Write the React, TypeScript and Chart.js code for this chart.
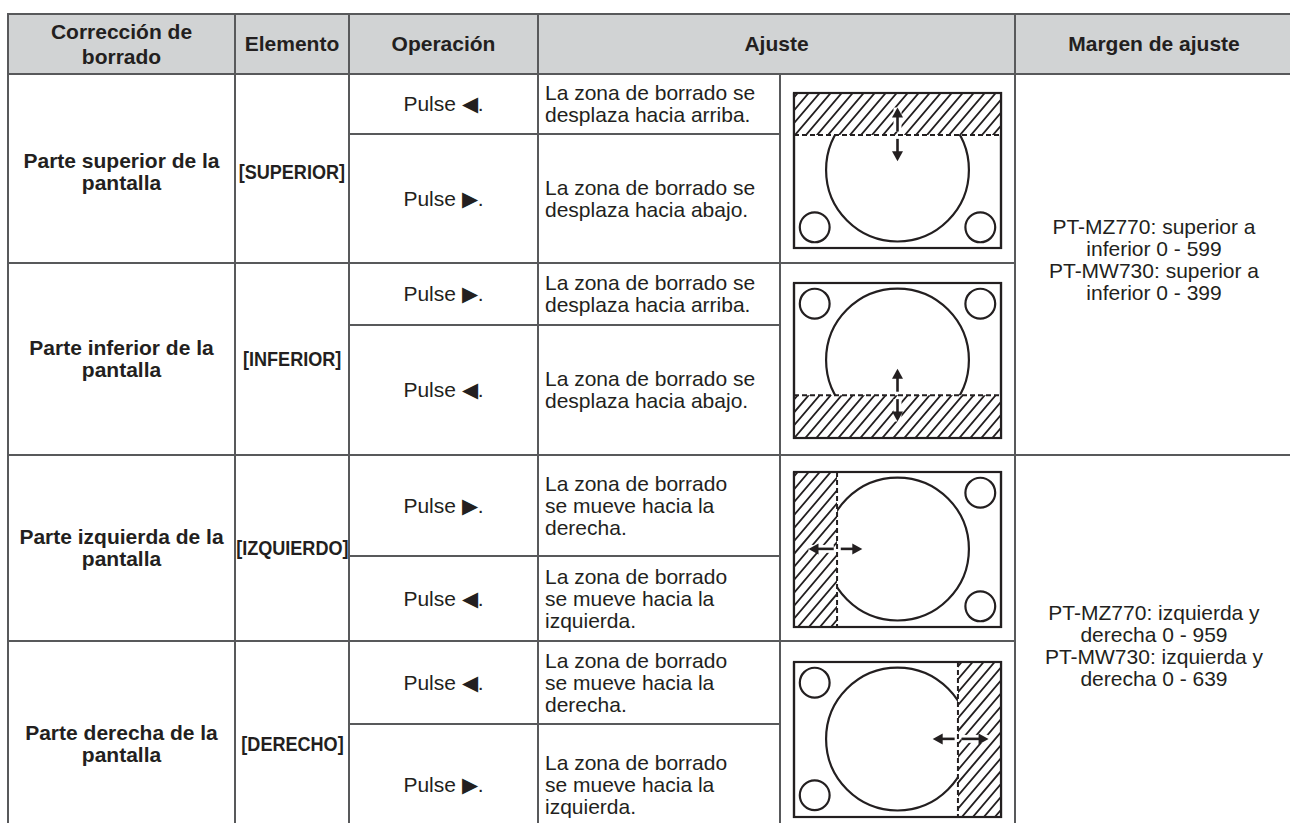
import React, { useEffect, useRef } from "react";
import { Chart, registerables } from "chart.js";

Chart.register(...registerables);

// ---------- table text data ----------
const headers = ["Corrección de\nborrado", "Elemento", "Operación", "Ajuste", "Margen de ajuste"];
const sides = [
  "Parte superior de la\npantalla",
  "Parte inferior de la\npantalla",
  "Parte izquierda de la\npantalla",
  "Parte derecha de la\npantalla",
];
const items = ["[SUPERIOR]", "[INFERIOR]", "[IZQUIERDO]", "[DERECHO]"];
const operations = ["Pulse ◀.", "Pulse ▶.", "Pulse ▶.", "Pulse ◀.", "Pulse ▶.", "Pulse ◀.", "Pulse ◀.", "Pulse ▶."];
const results = [
  "La zona de borrado se\ndesplaza hacia arriba.",
  "La zona de borrado se\ndesplaza hacia abajo.",
  "La zona de borrado se\ndesplaza hacia arriba.",
  "La zona de borrado se\ndesplaza hacia abajo.",
  "La zona de borrado\nse mueve hacia la\nderecha.",
  "La zona de borrado\nse mueve hacia la\nizquierda.",
  "La zona de borrado\nse mueve hacia la\nderecha.",
  "La zona de borrado\nse mueve hacia la\nizquierda.",
];
const ranges = [
  "PT-MZ770: superior a\ninferior 0 - 599\nPT-MW730: superior a\ninferior 0 - 399",
  "PT-MZ770: izquierda y\nderecha 0 - 959\nPT-MW730: izquierda y\nderecha 0 - 639",
];

// ---------- diagram data (screen units: width 100, height 75) ----------
const screenOutline = [
  { x: 0, y: 0 },
  { x: 100, y: 0 },
  { x: 100, y: 75 },
  { x: 0, y: 75 },
  { x: 0, y: 0 },
];
const bigCircle = { x: 50, y: 37.3, r: 34.5 };
const smallCircleR = 7.2;
const smallCircles = [
  [{ x: 10, y: 65 }, { x: 90, y: 65 }],
  [{ x: 10, y: 10 }, { x: 90, y: 10 }],
  [{ x: 90, y: 10 }, { x: 90, y: 65 }],
  [{ x: 10, y: 10 }, { x: 10, y: 64.5 }],
];
// hatched (erased) zone: [xMin, xMax, yMin, yMax]
const hatchZones = [
  [0, 100, 0, 20.3],
  [0, 100, 54.3, 75],
  [0, 20.8, 0, 75],
  [79.2, 100, 0, 75],
];
// dashed edge: [x0, y0, x1, y1]
const edgeLines = [
  [0, 20.3, 100, 20.3],
  [0, 54.3, 100, 54.3],
  [20.8, 0, 20.8, 75],
  [79.2, 0, 79.2, 75],
];
// arrows: [fromX, fromY, tipX, tipY]
const arrows = [
  [[50, 18.6, 50, 7], [50, 22.2, 50, 33]],
  [[50, 52.6, 50, 41.5], [50, 56.2, 50, 67]],
  [[19.2, 37.2, 7, 37.2], [22.6, 37.2, 33, 37.2]],
  [[77.6, 37.2, 67, 37.2], [81, 37.2, 94, 37.2]],
];

// ---------- layout ----------
const colEdges = [8, 235, 349, 538, 780, 1015, 1293];
const rowEdges = [14, 74, 134, 263, 325, 455, 556, 641, 724, 846];
const diagramTops = [93, 283, 472, 662];
const diagramLeft = 794;
const diagramW = 207;
const diagramH = 155;
const pad = 8;

const TEXT = "#231f20";
const LINE = "#58595b";
const HEAD_BG = "#d1d3d4";
const FONT = '"Liberation Sans", Arial, Helvetica, sans-serif';

function Lines({ text }: { text: string }) {
  const parts = text.split("\n");
  return (
    <>
      {parts.map((p, i) => (
        <React.Fragment key={i}>
          {p}
          {i < parts.length - 1 ? <br /> : null}
        </React.Fragment>
      ))}
    </>
  );
}

function Cell(props: {
  c0: number;
  c1: number;
  r0: number;
  r1: number;
  bg?: string;
  left?: boolean;
  bold?: boolean;
  narrow?: boolean;
  lh?: number;
  shift?: number;
  children?: any;
}) {
  const x0 = colEdges[props.c0];
  const x1 = colEdges[props.c1];
  const y0 = rowEdges[props.r0];
  const y1 = rowEdges[props.r1];
  const shift = props.shift || 0;
  return (
    <div
      style={{
        position: "absolute",
        left: x0 - 1,
        top: y0 - 1,
        width: x1 - x0 + 2,
        height: y1 - y0 + 2,
        boxSizing: "border-box",
        border: `2px solid ${LINE}`,
        background: props.bg || "transparent",
        display: "flex",
        alignItems: "center",
        justifyContent: props.left ? "flex-start" : "center",
        textAlign: props.left ? "left" : "center",
        paddingLeft: props.left ? 6 : 0,
        paddingTop: shift > 0 ? shift * 2 : 0,
        paddingBottom: shift < 0 ? -shift * 2 : 0,
        fontWeight: props.bold ? 700 : 400,
        lineHeight: props.lh ? props.lh + "px" : undefined,
        whiteSpace: "nowrap",
      }}
    >
      <div style={props.narrow ? { transform: "scaleX(0.86)" } : undefined}>{props.children}</div>
    </div>
  );
}

function makeDiagramPlugin(idx: number) {
  return {
    id: "eraseDiagram" + idx,
    afterDatasetsDraw(chart: any) {
      const { ctx, scales } = chart;
      const px = (v: number) => scales.x.getPixelForValue(v);
      const py = (v: number) => scales.y.getPixelForValue(v);
      const hz = hatchZones[idx];
      const hx0 = px(hz[0]);
      const hx1 = px(hz[1]);
      const hy0 = py(hz[2]);
      const hy1 = py(hz[3]);
      ctx.save();
      ctx.beginPath();
      ctx.rect(hx0, hy0, hx1 - hx0, hy1 - hy0);
      ctx.fillStyle = "#ffffff";
      ctx.fill();
      ctx.clip();
      ctx.strokeStyle = TEXT;
      ctx.lineWidth = 1.8;
      const h = hy1 - hy0;
      const step = 11;
      const slant = 0.85;
      ctx.beginPath();
      for (let k = -h * slant - 20; k < hx1 - hx0 + 20; k += step) {
        ctx.moveTo(hx0 + k, hy1 + 2);
        ctx.lineTo(hx0 + k + (h + 4) * slant, hy0 - 2);
      }
      ctx.stroke();
      ctx.restore();

      // outline on top
      ctx.save();
      ctx.strokeStyle = TEXT;
      ctx.lineWidth = 2.2;
      ctx.strokeRect(px(0), py(0), px(100) - px(0), py(75) - py(0));

      // dashed edge
      const e = edgeLines[idx];
      ctx.lineWidth = 2;
      ctx.setLineDash([5, 3]);
      ctx.beginPath();
      ctx.moveTo(px(e[0]), py(e[1]));
      ctx.lineTo(px(e[2]), py(e[3]));
      ctx.stroke();
      ctx.setLineDash([]);

      // arrows
      for (const a of arrows[idx]) {
        const fx = px(a[0]);
        const fy = py(a[1]);
        const tx = px(a[2]);
        const ty = py(a[3]);
        const ang = Math.atan2(ty - fy, tx - fx);
        const L = 10;
        const W = 5.5;
        const bx = tx - Math.cos(ang) * L;
        const by = ty - Math.sin(ang) * L;
        // white halo
        ctx.strokeStyle = "#ffffff";
        ctx.lineWidth = 8;
        ctx.beginPath();
        ctx.moveTo(fx, fy);
        ctx.lineTo(tx, ty);
        ctx.stroke();
        ctx.strokeStyle = TEXT;
        ctx.lineWidth = 2.6;
        ctx.beginPath();
        ctx.moveTo(fx, fy);
        ctx.lineTo(bx + Math.cos(ang), by + Math.sin(ang));
        ctx.stroke();
        ctx.fillStyle = TEXT;
        ctx.beginPath();
        ctx.moveTo(tx, ty);
        ctx.lineTo(bx + Math.sin(ang) * W, by - Math.cos(ang) * W);
        ctx.lineTo(bx - Math.sin(ang) * W, by + Math.cos(ang) * W);
        ctx.closePath();
        ctx.fill();
      }
      ctx.restore();
    },
  };
}

function Diagram({ idx }: { idx: number }) {
  const ref = useRef<HTMLCanvasElement | null>(null);
  useEffect(() => {
    if (!ref.current) return;
    const radiusPx = (c: any) => {
      const s = c.chart.scales.x;
      const r = c.raw && typeof c.raw.r === "number" ? c.raw.r : 0;
      return s.getPixelForValue(r) - s.getPixelForValue(0);
    };
    const circles = [bigCircle, ...smallCircles[idx].map((p) => ({ x: p.x, y: p.y, r: smallCircleR }))];
    const chart = new Chart(ref.current, {
      type: "scatter",
      data: {
        datasets: [
          {
            data: screenOutline,
            showLine: true,
            borderColor: TEXT,
            borderWidth: 2.2,
            pointRadius: 0,
            clip: false,
          } as any,
          {
            data: circles,
            showLine: false,
            pointRadius: radiusPx,
            pointHoverRadius: radiusPx,
            pointBorderColor: TEXT,
            pointBackgroundColor: "rgba(0,0,0,0)",
            pointBorderWidth: 2.2,
            clip: false,
          } as any,
        ],
      },
      options: {
        animation: false,
        responsive: false,
        devicePixelRatio: 1,
        events: [],
        layout: { padding: pad },
        scales: {
          x: { type: "linear", min: 0, max: 100, display: false },
          y: { type: "linear", min: 0, max: 75, reverse: true, display: false },
        },
        plugins: { legend: { display: false }, tooltip: { enabled: false } },
      },
      plugins: [makeDiagramPlugin(idx)],
    });
    return () => chart.destroy();
  }, [idx]);
  return (
    <canvas
      ref={ref}
      width={diagramW + pad * 2}
      height={diagramH + pad * 2}
      style={{
        position: "absolute",
        left: diagramLeft - pad,
        top: diagramTops[idx] - pad,
        width: diagramW + pad * 2,
        height: diagramH + pad * 2,
      }}
    />
  );
}

export default function App() {
  return (
    <div
      style={{
        position: "fixed",
        left: 0,
        top: 0,
        width: 1290,
        height: 823,
        overflow: "hidden",
        background: "#ffffff",
        fontFamily: FONT,
        fontSize: 21,
        lineHeight: "22px",
        color: TEXT,
      }}
    >
      {/* header */}
      <Cell c0={0} c1={1} r0={0} r1={1} bg={HEAD_BG} bold lh={25}>
        <Lines text={headers[0]} />
      </Cell>
      <Cell c0={1} c1={2} r0={0} r1={1} bg={HEAD_BG} bold>
        <Lines text={headers[1]} />
      </Cell>
      <Cell c0={2} c1={3} r0={0} r1={1} bg={HEAD_BG} bold>
        <Lines text={headers[2]} />
      </Cell>
      <Cell c0={3} c1={5} r0={0} r1={1} bg={HEAD_BG} bold>
        <Lines text={headers[3]} />
      </Cell>
      <Cell c0={5} c1={6} r0={0} r1={1} bg={HEAD_BG} bold>
        <Lines text={headers[4]} />
      </Cell>

      {sides.map((s, i) => (
        <React.Fragment key={"s" + i}>
          <Cell c0={0} c1={1} r0={1 + i * 2} r1={3 + i * 2} bold shift={i === 0 ? 3 : 0}>
            <Lines text={s} />
          </Cell>
          <Cell c0={1} c1={2} r0={1 + i * 2} r1={3 + i * 2} bold narrow shift={i === 0 ? 3 : 0}>
            {items[i]}
          </Cell>
          <Cell c0={4} c1={5} r0={1 + i * 2} r1={3 + i * 2} />
        </React.Fragment>
      ))}

      {operations.map((op, i) => (
        <React.Fragment key={"o" + i}>
          <Cell c0={2} c1={3} r0={1 + i} r1={2 + i}>
            {op}
          </Cell>
          <Cell c0={3} c1={4} r0={1 + i} r1={2 + i} left>
            <Lines text={results[i]} />
          </Cell>
        </React.Fragment>
      ))}

      {ranges.map((r, i) => (
        <Cell key={"r" + i} c0={5} c1={6} r0={1 + i * 4} r1={5 + i * 4} shift={-5}>
          <Lines text={r} />
        </Cell>
      ))}

      {[0, 1, 2, 3].map((i) => (
        <Diagram key={"d" + i} idx={i} />
      ))}
    </div>
  );
}
